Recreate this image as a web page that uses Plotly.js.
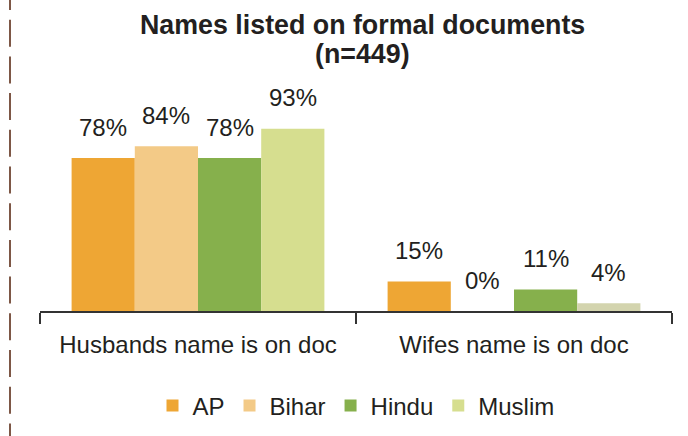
<!DOCTYPE html>
<html>
<head>
<meta charset="utf-8">
<script src="https://cdn.plot.ly/plotly-3.0.1.min.js"></script>
<style>html,body{margin:0;padding:0;background:#fff;}#chart{width:688px;height:436px;}</style>
</head>
<body>
<div id="chart"></div>
<script>
// ---- data ----
const categories = ["Husbands name is on doc", "Wifes name is on doc"];
const seriesNames = ["AP", "Bihar", "Hindu", "Muslim"];
const apValues = [78, 15];
const biharValues = [84, 0];
const hinduValues = [78, 11];
const muslimValues = [93, 4];
const titleLine1 = "Names listed on formal documents";
const titleLine2 = "(n=449)";

// ---- styling ----
const seriesValues = [apValues, biharValues, hinduValues, muslimValues];
const seriesColors = [
  ["#EEA634", "#EEA634"],
  ["#F3CA87", "#F3CA87"],
  ["#86B04C", "#86B04C"],
  ["#D6DE8F", "#D3D4AE"]
];
const FONT = "Liberation Sans, Arial, sans-serif";
const TXT = "#231f20";

const traces = seriesNames.map((name, i) => ({
  type: "bar",
  name: name,
  x: categories,
  y: seriesValues[i],
  marker: { color: seriesColors[i], line: { width: 0 } },
  hoverinfo: "x+y+name"
}));

const plotWidth = 688 - 40 - 16;
const plotHeight = 196;
const catWidth = plotWidth / categories.length;
const bargap = 0.2;
const barW = catWidth * (1 - bargap) / seriesNames.length;
const annotations = [];
seriesNames.forEach((name, i) => {
  const off = (i - (seriesNames.length - 1) / 2) * barW;
  categories.forEach((c, j) => {
    annotations.push({
      x: c, y: seriesValues[i][j], xref: "x", yref: "y",
      text: seriesValues[i][j] + "%",
      showarrow: false, xshift: off, yshift: 31,
      yanchor: "middle", xanchor: "center",
      font: { family: FONT, size: 24, color: TXT }
    });
  });
});
annotations.push({
  x: 0.51, y: (311 - 25) / plotHeight, xref: "paper", yref: "paper", text: "<b>" + titleLine1 + "</b>",
  showarrow: false, xanchor: "center", yanchor: "middle",
  font: { family: FONT, size: 26.8, color: TXT }
});
annotations.push({
  x: 0.51, y: (311 - 54) / plotHeight, xref: "paper", yref: "paper", text: "<b>" + titleLine2 + "</b>",
  showarrow: false, xanchor: "center", yanchor: "middle",
  font: { family: FONT, size: 26.8, color: TXT }
});

const layout = {
  width: 688, height: 436,
  margin: { l: 40, r: 16, t: 115, b: 125, autoexpand: false },
  paper_bgcolor: "#fff", plot_bgcolor: "#fff",
  barmode: "group", bargap: bargap, bargroupgap: 0,
  showlegend: true,
  legend: {
    orientation: "h", x: 0.5, xanchor: "center",
    yref: "container", y: 30 / 436, yanchor: "middle",
    font: { family: FONT, size: 24, color: TXT },
    itemclick: false, traceorder: "normal"
  },
  xaxis: {
    type: "category", automargin: false,
    showline: true, linecolor: "#333", linewidth: 2,
    ticks: "outside", tickson: "boundaries", ticklen: 11, tickwidth: 2, tickcolor: "#333",
    ticklabelstandoff: 11,
    tickfont: { family: FONT, size: 24, color: TXT },
    showgrid: false, zeroline: false, fixedrange: true
  },
  yaxis: {
    range: [0, 100], visible: false, showgrid: false, zeroline: false, fixedrange: true
  },
  annotations: annotations,
  shapes: [{
    type: "line", xref: "paper", yref: "paper",
    x0: -30 / plotWidth, x1: -30 / plotWidth,
    y0: 1 + (115 + 17) / plotHeight, y1: -125 / plotHeight,
    line: { color: "#7d5746", width: 2, dash: "27px,9.7px" }
  }]
};

Plotly.newPlot("chart", traces, layout, { displayModeBar: false });
</script>
</body>
</html>
